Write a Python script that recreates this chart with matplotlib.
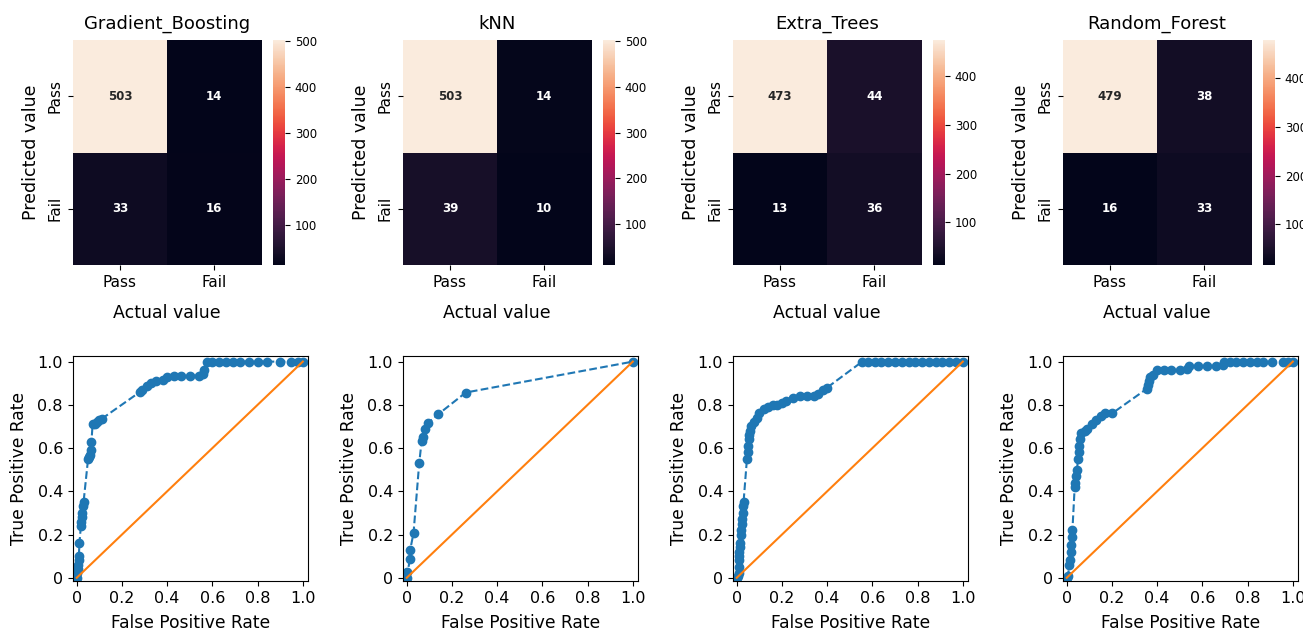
import numpy as np
import matplotlib
matplotlib.use("Agg")
import matplotlib.pyplot as plt
import seaborn as sns

W, H = 1303, 632

models = ["Gradient_Boosting", "kNN", "Extra_Trees", "Random_Forest"]
labels = ["Pass", "Fail"]

# confusion matrices: rows = predicted (Pass, Fail), cols = actual (Pass, Fail)
cm_gb = [[503, 14], [33, 16]]
cm_knn = [[503, 14], [39, 10]]
cm_et = [[473, 44], [13, 36]]
cm_rf = [[479, 38], [16, 33]]

# ROC curves
fpr_gb = [0.0, 0.003, 0.005, 0.006, 0.008, 0.009, 0.012, 0.018, 0.02, 0.022, 0.025, 0.027, 0.03,
          0.05, 0.055, 0.06, 0.062, 0.065, 0.07, 0.08, 0.09, 0.10, 0.11,
          0.28, 0.29, 0.31, 0.33, 0.35, 0.38, 0.40, 0.43, 0.46, 0.50, 0.54, 0.56, 0.565,
          0.575, 0.60, 0.63, 0.66, 0.69, 0.72, 0.76, 0.80, 0.84, 0.90, 0.95, 0.98, 1.0]
tpr_gb = [0.0, 0.02, 0.04, 0.06, 0.08, 0.10, 0.16, 0.24, 0.26, 0.28, 0.30, 0.33, 0.35,
          0.55, 0.56, 0.57, 0.59, 0.63, 0.71, 0.71, 0.72, 0.73, 0.735,
          0.86, 0.87, 0.885, 0.90, 0.91, 0.915, 0.93, 0.935, 0.935, 0.935, 0.935, 0.945, 0.96,
          1.0, 1.0, 1.0, 1.0, 1.0, 1.0, 1.0, 1.0, 1.0, 1.0, 1.0, 1.0, 1.0]

fpr_knn = [0.0, 0.003, 0.015, 0.015, 0.03, 0.055, 0.066, 0.074, 0.081, 0.093, 0.14, 0.261, 1.0]
tpr_knn = [0.0, 0.026, 0.088, 0.128, 0.208, 0.53, 0.635, 0.65, 0.69, 0.715, 0.757, 0.857, 1.0]

fpr_et = [0.0, 0.005, 0.008, 0.008, 0.01, 0.01, 0.012, 0.014, 0.016, 0.018, 0.02, 0.022, 0.024,
          0.026, 0.028, 0.03, 0.045, 0.048, 0.05, 0.052, 0.055, 0.06, 0.065, 0.075, 0.09, 0.10,
          0.12, 0.14, 0.16, 0.18, 0.20, 0.22, 0.25, 0.28, 0.31, 0.34, 0.36, 0.38, 0.40,
          0.555, 0.58, 0.61, 0.64, 0.67, 0.70, 0.73, 0.76, 0.79, 0.82, 0.85, 0.88, 0.91, 0.94, 0.97, 1.0]
tpr_et = [0.0, 0.01, 0.02, 0.05, 0.08, 0.10, 0.12, 0.14, 0.16, 0.20, 0.22, 0.25, 0.27,
          0.30, 0.33, 0.35, 0.55, 0.58, 0.61, 0.64, 0.66, 0.68, 0.70, 0.72, 0.74, 0.76,
          0.78, 0.79, 0.80, 0.80, 0.81, 0.82, 0.83, 0.84, 0.84, 0.84, 0.85, 0.87, 0.88,
          1.0, 1.0, 1.0, 1.0, 1.0, 1.0, 1.0, 1.0, 1.0, 1.0, 1.0, 1.0, 1.0, 1.0, 1.0, 1.0]

fpr_rf = [0.0, 0.005, 0.012, 0.015, 0.018, 0.02, 0.022, 0.025, 0.035, 0.038, 0.04, 0.045, 0.05,
          0.052, 0.055, 0.06, 0.064, 0.08, 0.09, 0.11, 0.13, 0.15, 0.17, 0.20,
          0.355, 0.36, 0.365, 0.37, 0.38, 0.40, 0.43, 0.46, 0.50, 0.53, 0.54, 0.58, 0.62,
          0.66, 0.69, 0.695, 0.72, 0.75, 0.78, 0.81, 0.84, 0.87, 0.91, 0.955, 0.98, 1.0]
tpr_rf = [0.0, 0.01, 0.06, 0.08, 0.12, 0.15, 0.19, 0.22, 0.42, 0.44, 0.47, 0.50, 0.55,
          0.58, 0.61, 0.64, 0.67, 0.68, 0.69, 0.71, 0.73, 0.75, 0.76, 0.76,
          0.875, 0.89, 0.91, 0.93, 0.94, 0.96, 0.96, 0.96, 0.96, 0.965, 0.98, 0.98, 0.98,
          0.98, 0.985, 1.0, 1.0, 1.0, 1.0, 1.0, 1.0, 1.0, 1.0, 1.0, 1.0, 1.0]

cms = [cm_gb, cm_knn, cm_et, cm_rf]
fprs = [fpr_gb, fpr_knn, fpr_et, fpr_rf]
tprs = [tpr_gb, tpr_knn, tpr_et, tpr_rf]


def px_axes(fig, x0, y0, x1, y1):
    return fig.add_axes([x0 / W, 1 - y1 / H, (x1 - x0) / W, (y1 - y0) / H])


fig = plt.figure(figsize=(W / 100, H / 100), dpi=100)

for i in range(4):
    dx = 330 * i

    # confusion matrix
    ax = px_axes(fig, 72.7 + dx, 40, 261.5 + dx, 265)
    cax = px_axes(fig, 273 + dx, 40, 285 + dx, 265)
    sns.heatmap(np.array(cms[i]), annot=True, fmt="d", ax=ax, cbar_ax=cax,
                xticklabels=labels, yticklabels=labels,
                annot_kws={"fontsize": 8.5, "fontweight": "bold"})
    ax.set_title(models[i], fontsize=13, pad=8)
    ax.set_xlabel("Actual value", fontsize=12.5, labelpad=10)
    ax.set_ylabel("Predicted value", fontsize=12.5, labelpad=6)
    ax.tick_params(labelsize=11)
    plt.setp(ax.get_yticklabels(), rotation=90, va="center")
    cax.tick_params(labelsize=8.5)

    # ROC curve
    ax2 = px_axes(fig, 72.7 + dx, 356, 308 + dx, 581)
    ax2.plot(fprs[i], tprs[i], linestyle="--", marker="o", markersize=6)
    ax2.plot([0, 1], [0, 1])
    ax2.set_xlim(-0.018, 1.023)
    ax2.set_ylim(-0.015, 1.026)
    ax2.set_xticks([0, 0.2, 0.4, 0.6, 0.8, 1.0])
    ax2.set_xticklabels(["0", "0.2", "0.4", "0.6", "0.8", "1.0"])
    ax2.set_yticks([0, 0.2, 0.4, 0.6, 0.8, 1.0])
    ax2.set_yticklabels(["0", "0.2", "0.4", "0.6", "0.8", "1.0"])
    ax2.tick_params(labelsize=11.5)
    ax2.set_xlabel("False Positive Rate", fontsize=12.3, labelpad=6)
    ax2.set_ylabel("True Positive Rate", fontsize=12.3, labelpad=7)

fig.savefig("out.png", dpi=100)
